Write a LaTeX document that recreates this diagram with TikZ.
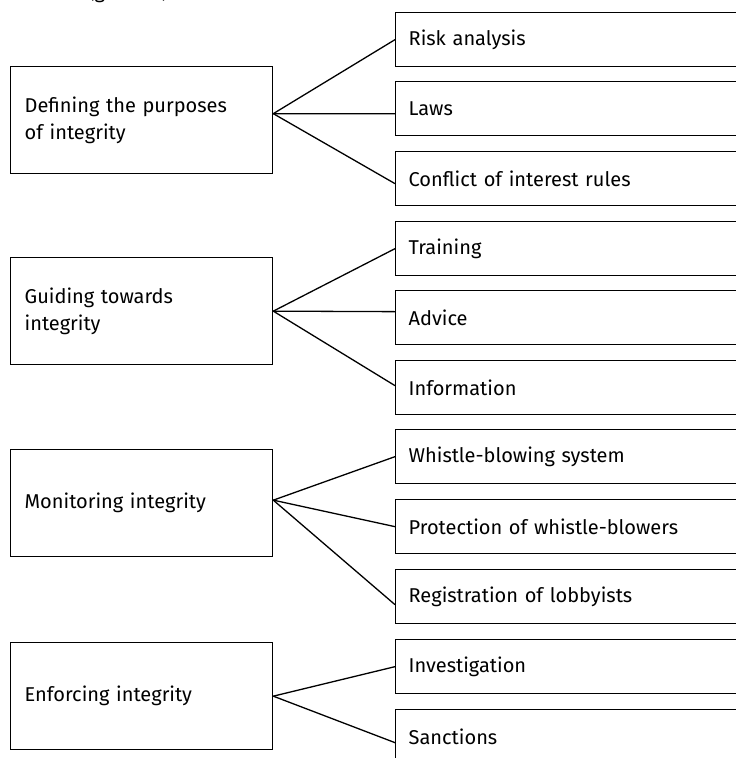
\documentclass[tikz,border=0pt]{standalone}
\usepackage{fontspec}
\setmainfont{Fira Sans}
\begin{document}
\begin{tikzpicture}[x=1bp,y=-1bp,
  every node/.style={font=\fontsize{20bp}{27.5bp}\selectfont},
  leftbox/.style={draw,line width=1.3bp,anchor=north west,minimum height=107bp,
    text width=234bp,inner xsep=14bp,inner ysep=0bp,align=left},
  rightbox/.style={draw,line width=1.3bp,anchor=north west,minimum height=54bp,
    text width=339bp,inner xsep=13bp,inner ysep=0bp,align=left},
  conn/.style={line width=1.3bp}]
\useasboundingbox (0,0) rectangle (736,758);
\clip (0,0) rectangle (736,758);
\node[anchor=base west,inner sep=0pt] (frag) at (88,-1) {(general)};
% group 1
\node[leftbox] (g1) at (10,66) {Defining the purposes\\of integrity};
\node[rightbox] (r11) at (395,12) {Risk analysis};
\node[rightbox] (r12) at (395,81) {Laws};
\node[rightbox] (r13) at (395,151) {Conflict of interest rules};
% group 2
\node[leftbox] (g2) at (10,257) {Guiding towards\\integrity};
\node[rightbox] (r21) at (395,221) {Training};
\node[rightbox] (r22) at (395,290) {Advice};
\node[rightbox] (r23) at (395,360) {Information};
% group 3
\node[leftbox] (g3) at (10,449) {Monitoring integrity};
\node[rightbox] (r31) at (395,429) {Whistle-blowing system};
\node[rightbox] (r32) at (395,499) {Protection of whistle-blowers};
\node[rightbox] (r33) at (395,569) {Registration of lobbyists};
% group 4
\node[leftbox] (g4) at (10,642) {Enforcing integrity};
\node[rightbox] (r41) at (395,639) {Investigation};
\node[rightbox] (r42) at (395,709) {Sanctions};
% connectors
\draw[conn] ([yshift=6.5bp]g1.east) -- (r11.west);
\draw[conn] ([yshift=6.5bp]g1.east) -- ([yshift=-5bp]r12.west);
\draw[conn] ([yshift=6.5bp]g1.east) -- ([yshift=-5bp]r13.west);
\draw[conn] (g2.east) -- (r21.west);
\draw[conn] (g2.east) -- ([yshift=6bp]r22.west);
\draw[conn] (g2.east) -- ([yshift=2bp]r23.west);
\draw[conn] ([yshift=3bp]g3.east) -- (r31.west);
\draw[conn] ([yshift=3bp]g3.east) -- (r32.west);
\draw[conn] ([yshift=3bp]g3.east) -- ([yshift=-8bp]r33.west);
\draw[conn] (g4.east) -- (r41.west);
\draw[conn] (g4.east) -- ([yshift=-6bp]r42.west);
\end{tikzpicture}
\end{document}
